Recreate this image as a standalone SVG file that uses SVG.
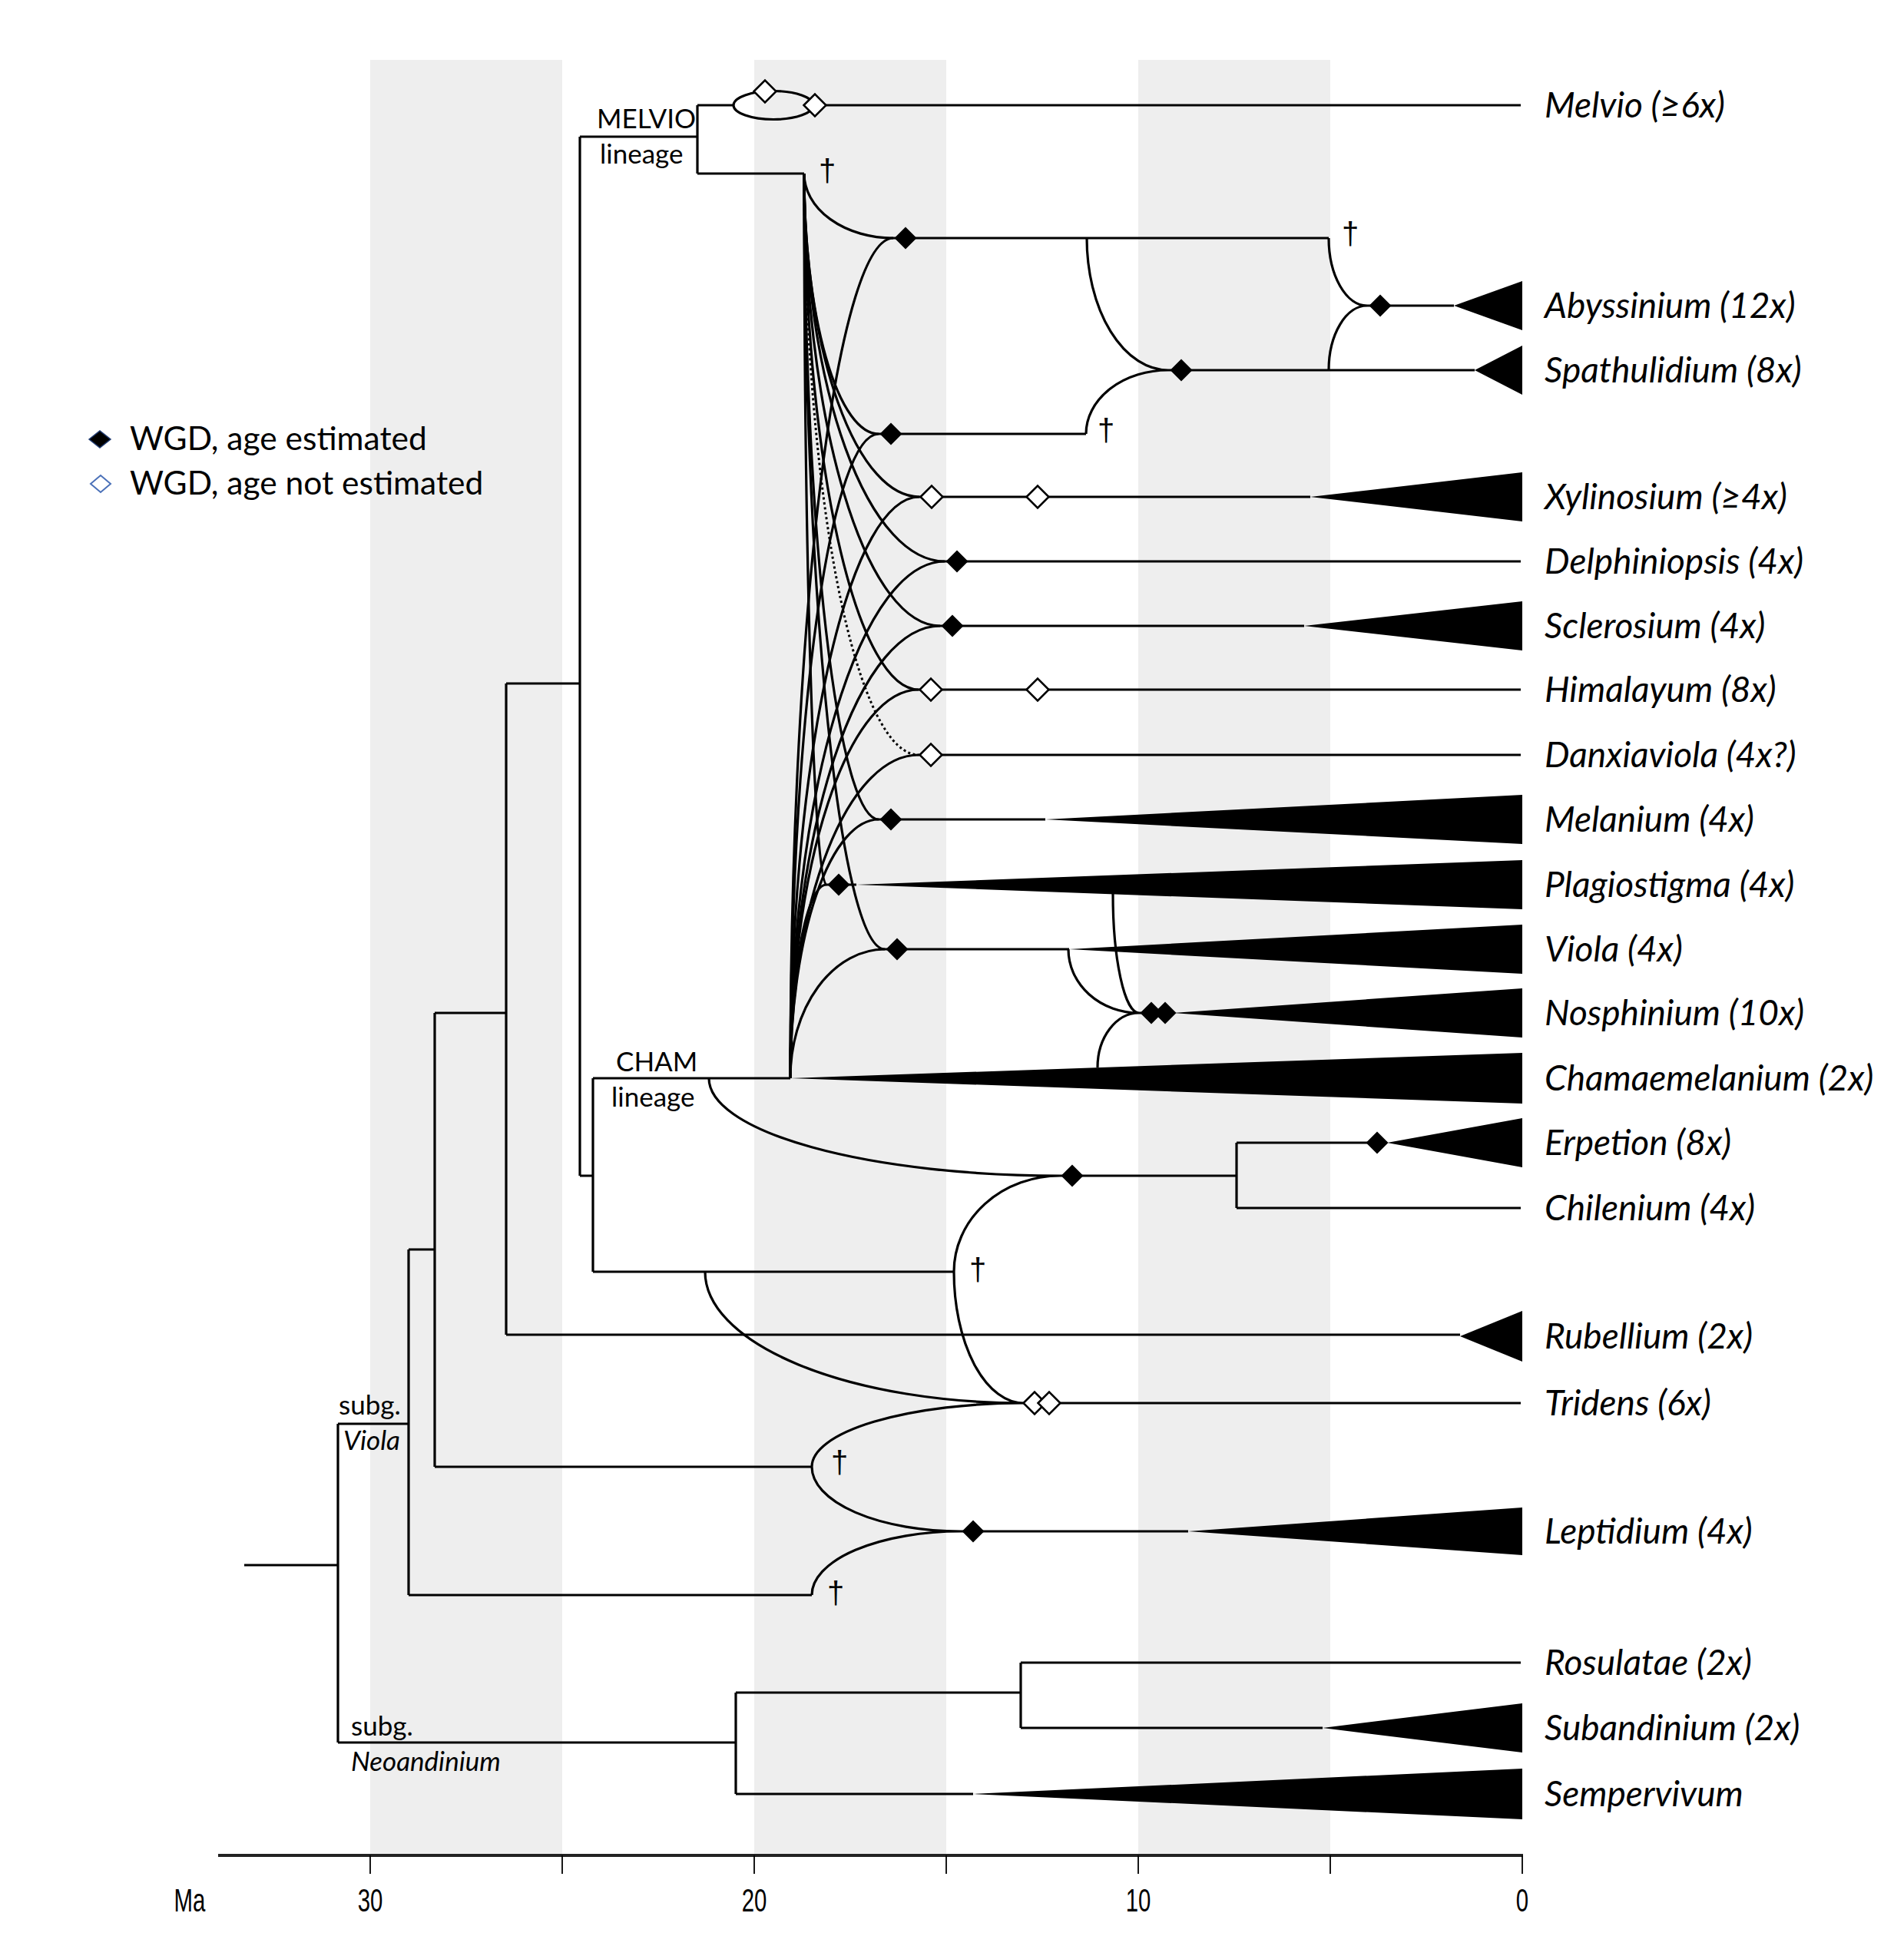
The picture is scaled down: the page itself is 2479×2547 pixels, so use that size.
<svg xmlns="http://www.w3.org/2000/svg" xmlns:xlink="http://www.w3.org/1999/xlink" width="2479" height="2547" viewBox="0 0 2479 2547">
<style>
.band{fill:#eeeeee}
.br{stroke:#000;stroke-width:3.2;fill:none}
.dot{stroke:#000;stroke-width:3;fill:none;stroke-dasharray:3 3.5}
.wedge{fill:#000}
.wf{fill:#000}
.wo{fill:#fff;stroke:#000;stroke-width:2.5}
.lab{font-family:Lato,"Liberation Sans",sans-serif;font-style:italic;font-size:46px;fill:#000}
.grp{font-family:Lato,"Liberation Sans",sans-serif;font-size:35px;fill:#000}
.grpi{font-family:Lato,"Liberation Sans",sans-serif;font-style:italic;font-size:35px;fill:#000}
.leg{font-family:Lato,"Liberation Sans",sans-serif;font-size:42.5px;fill:#000}
.dag{font-family:"Liberation Sans",sans-serif;font-size:40px;fill:#000;text-anchor:middle}
.ax{font-family:"Liberation Sans",sans-serif;font-size:42px;fill:#000;text-anchor:middle}
.tick{stroke:#000;stroke-width:1.8}
</style>
<defs>
<path id="dm" d="M-14.5,0 L0,-14.5 L14.5,0 L0,14.5 Z"/>
</defs>
<rect width="2479" height="2547" fill="#fff"/>
<g id="bands">
<rect class="band" x="482" y="78" width="250" height="2338"/>
<rect class="band" x="982" y="78" width="250" height="2338"/>
<rect class="band" x="1482" y="78" width="250" height="2338"/>
</g>
<g id="connectors">
<path class="br" d="M318,2038 H440 M440,1854 V2269 M440,1854 H532 M532,1627 V2077 M532,1627 H566 M566,1319 V1910 M532,2077 H1057 M566,1910 H1057 M566,1319 H659 M659,890 V1738 M659,890 H755 M659,1738 H1901 M755,178 V1531 M755,178 H908 M908,137 V226 M908,137 H955 M908,226 H1047 M755,1531 H772 M772,1404 V1656 M772,1404 H1029 M772,1656 H1242"/>
<path class="br" d="M440,2269 H958 M958,2204 V2336 M958,2204 H1329 M1329,2165 V2250 M1329,2165 H1980 M1329,2250 H1722 M958,2336 H1267"/>
<ellipse class="br" cx="1007" cy="137" rx="52" ry="18.5"/>
<path class="br" d="M1059,137 H1980"/>
<path class="br" d="M1047,226 A116,84 0 0 0 1163,310"/>
<path class="br" d="M1047,226 A97,339 0 0 0 1144,565"/>
<path class="br" d="M1047,226 A150,421 0 0 0 1197,647"/>
<path class="br" d="M1047,226 A183,505 0 0 0 1230,731"/>
<path class="br" d="M1047,226 A177,589 0 0 0 1224,815"/>
<path class="br" d="M1047,226 A149,672 0 0 0 1196,898"/>
<path class="dot" d="M1047,226 A149,757 0 0 0 1196,983"/>
<path class="br" d="M1047,226 A97,841 0 0 0 1144,1067"/>
<path class="br" d="M1047,226 A29,926 0 0 0 1076,1152"/>
<path class="br" d="M1047,226 A105,1010 0 0 0 1152,1236"/>
<path class="br" d="M1029,1404 A134,1094 0 0 1 1163,310"/>
<path class="br" d="M1029,1404 A115,839 0 0 1 1144,565"/>
<path class="br" d="M1029,1404 A168,757 0 0 1 1197,647"/>
<path class="br" d="M1029,1404 A201,673 0 0 1 1230,731"/>
<path class="br" d="M1029,1404 A195,589 0 0 1 1224,815"/>
<path class="br" d="M1029,1404 A167,506 0 0 1 1196,898"/>
<path class="br" d="M1029,1404 A167,421 0 0 1 1196,983"/>
<path class="br" d="M1029,1404 A115,337 0 0 1 1144,1067"/>
<path class="br" d="M1029,1404 A47,252 0 0 1 1076,1152"/>
<path class="br" d="M1029,1404 A123,168 0 0 1 1152,1236"/>
<path class="br" d="M1163,310 H1730 M1144,565 H1414 M1197,647 H1706 M1230,731 H1980 M1224,815 H1698 M1196,898 H1980 M1196,983 H1980 M1144,1067 H1361 M1076,1152 H1115 M1152,1236 H1392 M1483,1319 H1527"/>
<path class="br" d="M1730,310 A50,88 0 0 0 1780,398 M1730,482 A50,84 0 0 1 1780,398 M1780,398 H1893"/>
<path class="br" d="M1415,310 A106,172 0 0 0 1521,482 M1414,565 A107,83 0 0 1 1521,482 M1521,482 H1920"/>
<path class="br" d="M1449,1164 A34,155 0 0 0 1483,1319 M1391,1236 A92,83 0 0 0 1483,1319 M1429,1390 A54,71 0 0 1 1483,1319"/>
<path class="br" d="M923,1404 A457,127 0 0 0 1380,1531 M1242,1656 A138,125 0 0 1 1380,1531 M1380,1531 H1610 M1610,1488 V1573 M1610,1488 H1806 M1610,1573 H1980"/>
<path class="br" d="M918,1656 A415,171 0 0 0 1333,1827 M1242,1656 A91,171 0 0 0 1333,1827 M1057,1910 A276,83 0 0 1 1333,1827 M1333,1827 H1980"/>
<path class="br" d="M1057,1910 A194,84 0 0 0 1251,1994 M1057,2077 A194,83 0 0 1 1251,1994 M1251,1994 H1547"/>
</g>
<g id="daggers">
<text class="dag" x="1077" y="236">†</text>
<text class="dag" x="1758" y="318">†</text>
<text class="dag" x="1440" y="574">†</text>
<text class="dag" x="1273" y="1667">†</text>
<text class="dag" x="1093" y="1918">†</text>
<text class="dag" x="1088" y="2088">†</text>
</g>
<g id="taxa">
<g id="n-melvio"><text class="lab" x="2011" y="153">Melvio (≥6x)</text></g>
<g id="n-abyssinium"><polygon class="wedge" points="1893,398 1982,366 1982,430"/><text class="lab" x="2011" y="414">Abyssinium (12x)</text></g>
<g id="n-spathulidium"><polygon class="wedge" points="1920,482 1982,450 1982,514"/><text class="lab" x="2011" y="498">Spathulidium (8x)</text></g>
<g id="n-xylinosium"><polygon class="wedge" points="1706,647 1982,615 1982,679"/><text class="lab" x="2011" y="663">Xylinosium (≥4x)</text></g>
<g id="n-delphiniopsis"><text class="lab" x="2011" y="747">Delphiniopsis (4x)</text></g>
<g id="n-sclerosium"><polygon class="wedge" points="1698,815 1982,783 1982,847"/><text class="lab" x="2011" y="831">Sclerosium (4x)</text></g>
<g id="n-himalayum"><text class="lab" x="2011" y="914">Himalayum (8x)</text></g>
<g id="n-danxiaviola"><text class="lab" x="2011" y="999">Danxiaviola (4x?)</text></g>
<g id="n-melanium"><polygon class="wedge" points="1361,1067 1982,1035 1982,1099"/><text class="lab" x="2011" y="1083">Melanium (4x)</text></g>
<g id="n-plagiostigma"><polygon class="wedge" points="1115,1152 1982,1120 1982,1184"/><text class="lab" x="2011" y="1168">Plagiostigma (4x)</text></g>
<g id="n-viola"><polygon class="wedge" points="1392,1236 1982,1204 1982,1268"/><text class="lab" x="2011" y="1252">Viola (4x)</text></g>
<g id="n-nosphinium"><polygon class="wedge" points="1527,1319 1982,1287 1982,1351"/><text class="lab" x="2011" y="1335">Nosphinium (10x)</text></g>
<g id="n-chamaemelanium"><polygon class="wedge" points="1029,1404 1982,1371 1982,1437"/><text class="lab" x="2011" y="1420">Chamaemelanium (2x)</text></g>
<g id="n-erpetion"><polygon class="wedge" points="1806,1488 1982,1456 1982,1520"/><text class="lab" x="2011" y="1504">Erpetion (8x)</text></g>
<g id="n-chilenium"><text class="lab" x="2011" y="1589">Chilenium (4x)</text></g>
<g id="n-rubellium"><polygon class="wedge" points="1901,1740 1982,1707 1982,1773"/><text class="lab" x="2011" y="1756">Rubellium (2x)</text></g>
<g id="n-tridens"><text class="lab" x="2011" y="1843">Tridens (6x)</text></g>
<g id="n-leptidium"><polygon class="wedge" points="1547,1994 1982,1963 1982,2025"/><text class="lab" x="2011" y="2010">Leptidium (4x)</text></g>
<g id="n-rosulatae"><text class="lab" x="2011" y="2181">Rosulatae (2x)</text></g>
<g id="n-subandinium"><polygon class="wedge" points="1722,2250 1982,2218 1982,2282"/><text class="lab" x="2011" y="2266">Subandinium (2x)</text></g>
<g id="n-sempervivum"><polygon class="wedge" points="1267,2336 1982,2303 1982,2369"/><text class="lab" x="2011" y="2352">Sempervivum</text></g>
</g>
<g id="wgd">
<use href="#dm" class="wo" x="996" y="119"/>
<use href="#dm" class="wo" x="1061" y="137"/>
<use href="#dm" class="wf" x="1179" y="310"/>
<use href="#dm" class="wf" x="1160" y="565"/>
<use href="#dm" class="wo" x="1213" y="647"/>
<use href="#dm" class="wo" x="1351" y="647"/>
<use href="#dm" class="wf" x="1246" y="731"/>
<use href="#dm" class="wf" x="1240" y="815"/>
<use href="#dm" class="wo" x="1212" y="898"/>
<use href="#dm" class="wo" x="1351" y="898"/>
<use href="#dm" class="wo" x="1212" y="983"/>
<use href="#dm" class="wf" x="1160" y="1067"/>
<use href="#dm" class="wf" x="1092" y="1152"/>
<use href="#dm" class="wf" x="1168" y="1236"/>
<use href="#dm" class="wf" x="1499" y="1319"/>
<use href="#dm" class="wf" x="1517" y="1319"/>
<use href="#dm" class="wf" x="1797" y="398"/>
<use href="#dm" class="wf" x="1538" y="482"/>
<use href="#dm" class="wf" x="1396" y="1531"/>
<use href="#dm" class="wf" x="1793" y="1488"/>
<use href="#dm" class="wo" x="1347" y="1827"/>
<use href="#dm" class="wo" x="1366" y="1827"/>
<use href="#dm" class="wf" x="1267" y="1994"/>
</g>
<g id="group-labels">
<text class="grp" x="777" y="167">MELVIO</text>
<text class="grp" x="781" y="213">lineage</text>
<text class="grp" x="802" y="1395">CHAM</text>
<text class="grp" x="796" y="1441">lineage</text>
<text class="grp" x="441" y="1842">subg.</text>
<text class="grpi" x="447" y="1888">Viola</text>
<text class="grp" x="457" y="2260">subg.</text>
<text class="grpi" x="457" y="2306">Neoandinium</text>
</g>
<g id="legend">
<path d="M116,572 L130,561 L144,572 L130,583 Z" fill="#000" stroke="#1f3a70" stroke-width="1.5"/>
<path d="M118,630 L131,619 L144,630 L131,641 Z" fill="#fff" stroke="#4a70b8" stroke-width="2"/>
<text class="leg" x="169" y="586">WGD, age estimated</text>
<text class="leg" x="169" y="644">WGD, age not estimated</text>
</g>
<g id="axis">
<line x1="284" y1="2416" x2="1983" y2="2416" stroke="#222" stroke-width="4"/>
<path class="tick" d="M482,2416 V2440 M732,2416 V2440 M982,2416 V2440 M1232,2416 V2440 M1482,2416 V2440 M1732,2416 V2440 M1982,2416 V2440"/>
<text class="ax" transform="translate(247,2489) scale(0.7,1)">Ma</text>
<text class="ax" transform="translate(482,2489) scale(0.7,1)">30</text>
<text class="ax" transform="translate(982,2489) scale(0.7,1)">20</text>
<text class="ax" transform="translate(1482,2489) scale(0.7,1)">10</text>
<text class="ax" transform="translate(1982,2489) scale(0.7,1)">0</text>
</g>
</svg>
